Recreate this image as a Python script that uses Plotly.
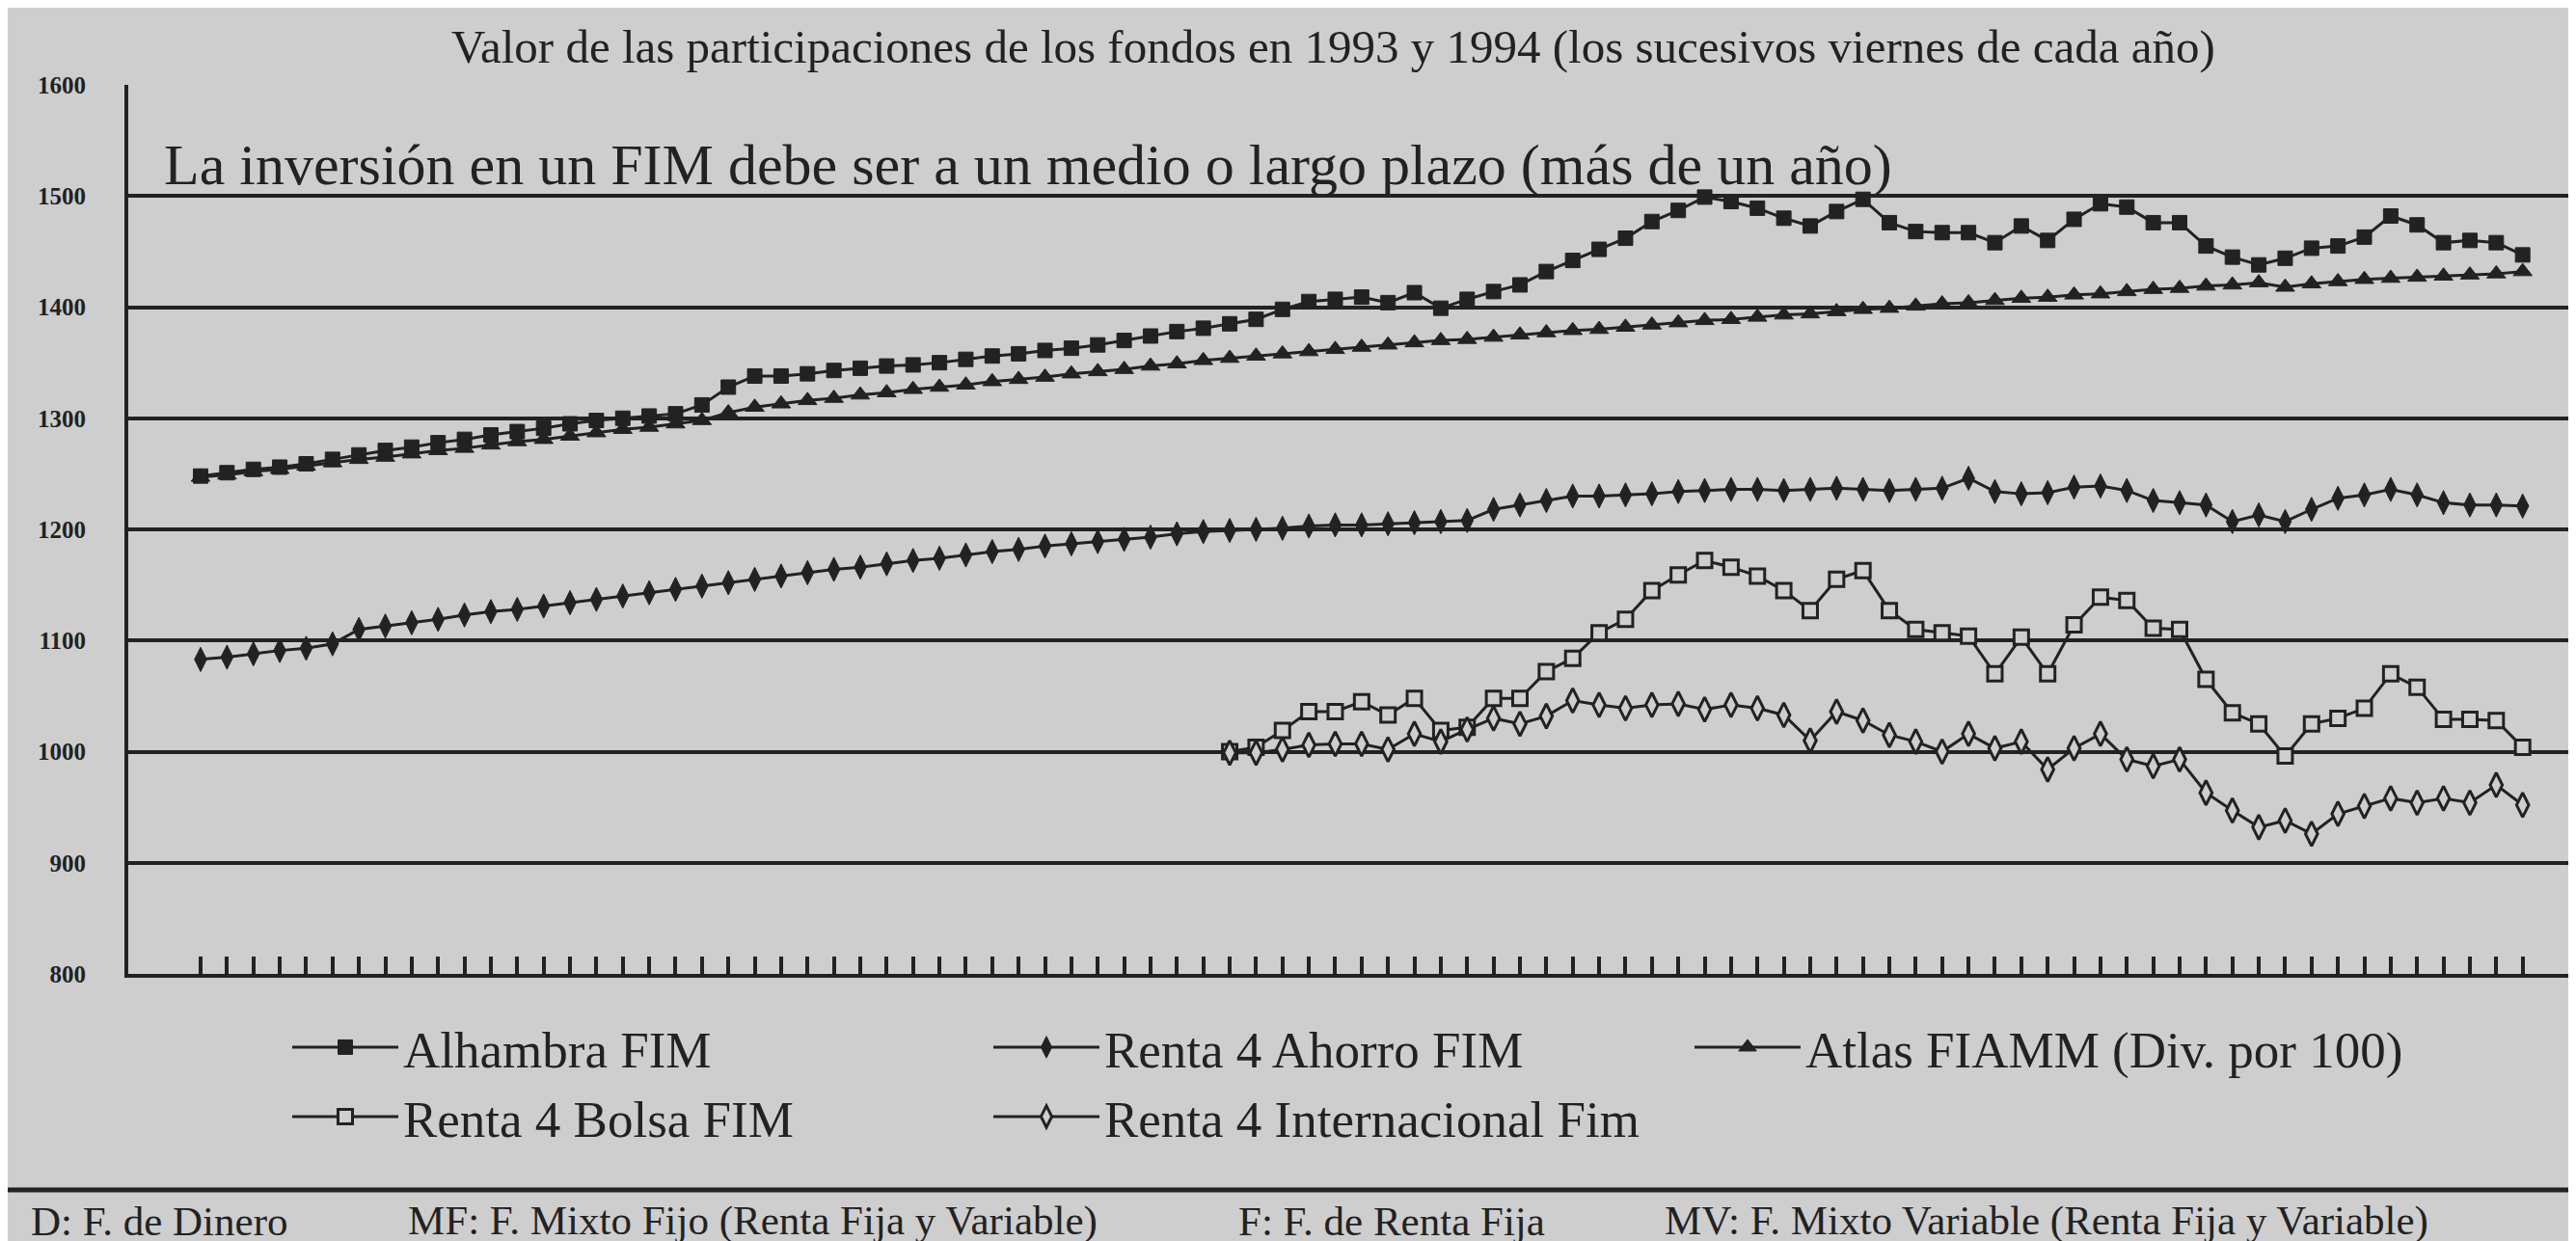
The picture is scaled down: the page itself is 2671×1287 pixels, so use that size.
import plotly.graph_objects as go

# ---------------- data ----------------
weeks = list(range(89))  # successive Fridays, 1993-1994

alhambra = [1248, 1251, 1254, 1256, 1259, 1263, 1267, 1271, 1274, 1278,
            1281, 1285, 1288, 1291, 1295, 1298, 1300, 1302, 1304, 1312,
            1328, 1338, 1338, 1340, 1343, 1345, 1347, 1348, 1350, 1353,
            1356, 1358, 1361, 1363, 1366, 1370, 1374, 1378, 1381, 1385,
            1389, 1398, 1405, 1407, 1409, 1404, 1413, 1399, 1407, 1414,
            1420, 1432, 1442, 1452, 1462, 1477, 1487, 1499, 1495, 1489,
            1480, 1473, 1486, 1497, 1476, 1468, 1467, 1467, 1458, 1473,
            1460, 1479, 1493, 1490, 1476, 1476, 1455, 1445, 1438, 1444,
            1453, 1455, 1463, 1482, 1474, 1458, 1460, 1458, 1447]

ahorro = [1083, 1085, 1088, 1091, 1093, 1097, 1110, 1113, 1116, 1119,
          1123, 1126, 1128, 1131, 1134, 1137, 1140, 1143, 1146, 1149,
          1152, 1155, 1158, 1161, 1164, 1166, 1169, 1172, 1174, 1177,
          1180, 1182, 1185, 1187, 1189, 1191, 1193, 1196, 1198, 1199,
          1200, 1201, 1203, 1204, 1204, 1205, 1206, 1207, 1208, 1218,
          1222, 1226, 1230, 1230, 1231, 1232, 1234, 1235, 1236, 1236,
          1235, 1236, 1237, 1236, 1235, 1236, 1237, 1246, 1234, 1232,
          1233, 1238, 1239, 1235, 1226, 1224, 1222, 1207, 1213, 1207,
          1218, 1228, 1231, 1236, 1231, 1224, 1222, 1222, 1221]

atlas = [1247, 1249, 1252, 1254, 1257, 1260, 1263, 1265, 1268, 1271,
         1273, 1276, 1279, 1281, 1284, 1287, 1290, 1292, 1295, 1298,
         1305, 1310, 1313, 1316, 1318, 1321, 1323, 1326, 1328, 1330,
         1333, 1335, 1337, 1340, 1342, 1344, 1347, 1349, 1352, 1354,
         1356, 1358, 1360, 1362, 1364, 1366, 1368, 1370, 1371, 1373,
         1375, 1377, 1379, 1380, 1382, 1384, 1386, 1388, 1389, 1391,
         1393, 1394, 1396, 1398, 1399, 1401, 1403, 1404, 1406, 1408,
         1409, 1411, 1412, 1414, 1416, 1417, 1419, 1420, 1422, 1418,
         1421, 1423, 1425, 1426, 1427, 1428, 1429, 1430, 1432]

bolsa = [None] * 39 + [
    1000, 1004, 1019, 1036, 1036, 1045, 1033, 1048, 1019, 1022,
    1048, 1048, 1072, 1084, 1107, 1119, 1145, 1159, 1172, 1166,
    1158, 1145, 1127, 1155, 1163, 1127, 1110, 1107, 1104, 1070,
    1103, 1070, 1114, 1139, 1136, 1111, 1110, 1065, 1035, 1025,
    996, 1025, 1030, 1039, 1070, 1058, 1029, 1029, 1028, 1004]

internacional = [None] * 39 + [
    999, 999, 1002, 1006, 1007, 1007, 1002, 1016, 1009, 1020,
    1030, 1025, 1032, 1046, 1042, 1039, 1042, 1043, 1038, 1042,
    1039, 1033, 1010, 1036, 1028, 1015, 1009, 1000, 1016, 1003,
    1009, 984, 1003, 1016, 993, 987, 993, 963, 947, 932,
    938, 926, 944, 951, 958, 954, 958, 954, 970, 952]

y_ticks = [800, 900, 1000, 1100, 1200, 1300, 1400, 1500, 1600]

title_text = "Valor de las participaciones de los fondos en 1993 y 1994 (los sucesivos viernes de cada año)"
subtitle_text = "La inversión en un FIM debe ser a un medio o largo plazo (más de un año)"
footnotes = ["D: F. de Dinero", "MF: F. Mixto Fijo (Renta Fija y Variable)",
             "F: F. de Renta Fija", "MV: F. Mixto Variable (Renta Fija y Variable)"]

# ---------------- style / layout ----------------
W, H = 2671, 1287
BG = "#cecece"
INK = "#222222"
FONT = "Liberation Serif"

L, R, T, B = 125, 0, 80, 285          # plot area margins (px)
PW, PH = W - L - R, H - T - B
X0_PX, STEP_PX = 200, 27.36           # first point position / spacing
x_lo = (L - X0_PX) / STEP_PX
x_hi = (W - R - X0_PX) / STEP_PX


def px_to_paper_x(px):
    return (px - L) / PW


def px_to_paper_y(py):
    return (H - B - py) / PH


fig = go.Figure()

series = [
    ("Alhambra FIM", alhambra, "legend",
     dict(symbol="square", size=15, color=INK, line=dict(color=INK, width=1))),
    ("Renta 4 Ahorro FIM", ahorro, "legend",
     dict(symbol="diamond-tall", size=18, color=INK, line=dict(color=INK, width=1))),
    ("Atlas FIAMM (Div. por 100)", atlas, "legend3",
     dict(symbol="triangle-up", size=17, color=INK, line=dict(color=INK, width=1))),
    ("Renta 4 Bolsa FIM", bolsa, "legend2",
     dict(symbol="square", size=15, color=BG, line=dict(color=INK, width=3))),
    ("Renta 4 Internacional Fim", internacional, "legend2",
     dict(symbol="diamond-tall", size=18, color=BG, line=dict(color=INK, width=3))),
]

for name, vals, lg, mk in series:
    fig.add_trace(go.Scatter(
        x=weeks, y=vals, name=name, mode="lines+markers", legend=lg,
        line=dict(color=INK, width=3), marker=mk, connectgaps=False,
    ))

fig.update_xaxes(
    range=[x_lo, x_hi], showgrid=False, zeroline=False,
    showline=True, linecolor=INK, linewidth=4,
    ticks="inside", tickvals=weeks, ticklen=18, tickwidth=4, tickcolor=INK,
    showticklabels=False,
)
fig.update_yaxes(
    range=[800, 1600], tickvals=y_ticks, ticktext=[str(v) for v in y_ticks],
    showgrid=True, gridcolor=INK, gridwidth=4, zeroline=False,
    showline=True, linecolor=INK, linewidth=4,
    ticks="", ticklabelstandoff=35,
    tickfont=dict(family=FONT, size=25, color=INK, weight="bold"),
)

annotations = [
    dict(text=title_text, x=px_to_paper_x(1374), y=px_to_paper_y(40),
         xanchor="center", yanchor="middle",
         font=dict(family=FONT, size=49, color=INK)),
    dict(text=subtitle_text, x=px_to_paper_x(160), y=px_to_paper_y(163),
         xanchor="left", yanchor="middle",
         font=dict(family=FONT, size=60, color=INK)),
]
foot_x = [22, 413, 1274, 1716]
for txt, fx in zip(footnotes, foot_x):
    annotations.append(dict(text=txt, x=px_to_paper_x(fx), y=px_to_paper_y(1258),
                            xanchor="left", yanchor="middle",
                            font=dict(family=FONT, size=43, color=INK)))
for a in annotations:
    a.update(xref="paper", yref="paper", showarrow=False)

shapes = [
    dict(type="line", xref="paper", yref="paper",
         x0=px_to_paper_x(0), x1=px_to_paper_x(W),
         y0=px_to_paper_y(1226), y1=px_to_paper_y(1226),
         line=dict(color=INK, width=5)),
]

legend_common = dict(
    orientation="h", xanchor="left", yanchor="middle",
    bgcolor="rgba(0,0,0,0)", itemwidth=110,
    entrywidth=602, entrywidthmode="pixels",
    font=dict(family=FONT, size=53, color=INK),
    tracegroupgap=0, itemclick=False, itemdoubleclick=False,
)

fig.update_layout(
    width=W, height=H,
    margin=dict(l=L, r=R, t=T, b=B, pad=0),
    paper_bgcolor=BG, plot_bgcolor=BG,
    showlegend=True,
    legend=dict(legend_common, x=px_to_paper_x(290), y=px_to_paper_y(1078)),
    legend2=dict(legend_common, x=px_to_paper_x(290), y=px_to_paper_y(1150)),
    legend3=dict(legend_common, x=px_to_paper_x(1744), y=px_to_paper_y(1078),
                 entrywidth=0),
    annotations=annotations, shapes=shapes,
)

fig.write_html("out.html")
